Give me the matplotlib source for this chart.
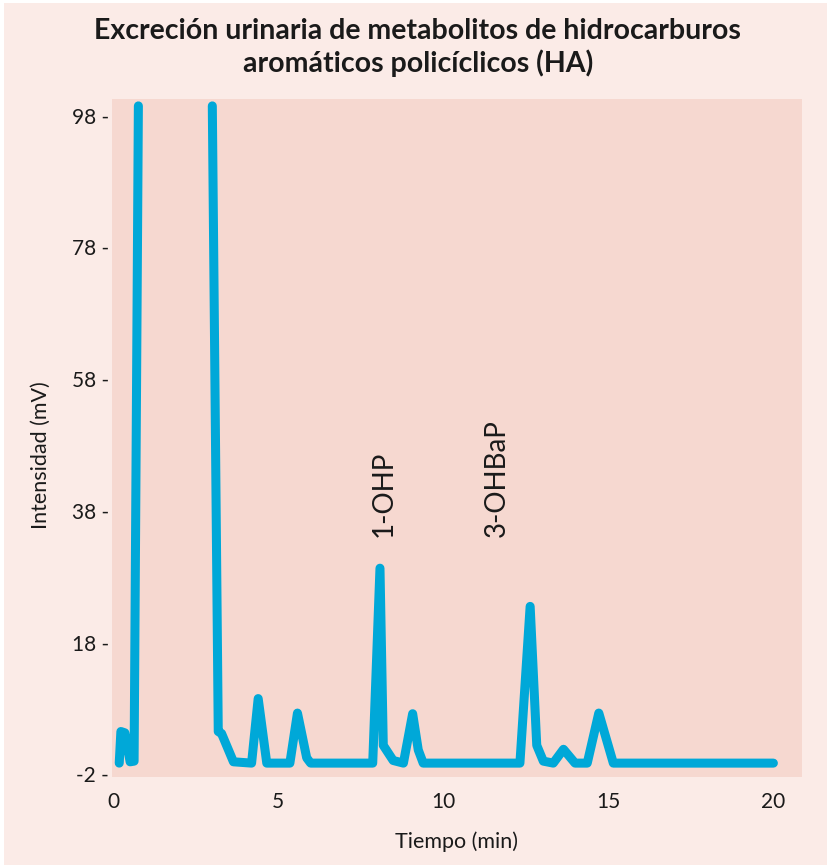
import numpy as np
import matplotlib
matplotlib.use("Agg")
import matplotlib.pyplot as plt
from matplotlib.patches import Rectangle
from matplotlib import font_manager

# ---- data ----
time_min = [0.18, 0.23, 0.35, 0.51, 0.63, 0.76, np.nan, 3.00, 3.18, 3.28, 3.64, 4.19,
            4.39, 4.65, 5.35, 5.58, 5.86, 5.98, 7.86, 8.08, 8.18, 8.48, 8.79,
            9.07, 9.24, 9.39, 12.32, 12.63, 12.83, 13.03, 13.33, 13.64, 13.99,
            14.36, 14.71, 15.15, 20.00]
intensity_mv = [-0.3, 4.5, 4.3, -0.1, 0.0, 99.5, np.nan, 99.5, 4.5, 4.2, -0.1, -0.3,
                9.5, -0.3, -0.3, 7.3, 0.5, -0.3, -0.3, 29.3, 2.4, 0.1, -0.3,
                7.2, 1.7, -0.3, -0.3, 23.5, 2.4, 0.0, -0.3, 1.8, -0.3,
                -0.3, 7.3, -0.3, -0.3]
xticks = [0, 5, 10, 15, 20]
yticks = [-2, 18, 38, 58, 78, 98]
peak_labels = ["1-OHP", "3-OHBaP"]
peak_label_x = [8.2, 11.63]
peak_label_y = [34.0, 34.0]

title = "Excreción urinaria de metabolitos de hidrocarburos\naromáticos policíclicos (HA)"

avail = {f.name for f in font_manager.fontManager.ttflist}
body_font = "Lato" if "Lato" in avail else "DejaVu Sans"
title_font = body_font

fig_bg = "#fbebe7"
ax_bg = "#f6d8d0"
line_c = "#00a8d8"
txt_c = "#1a1a1a"

fig = plt.figure(figsize=(8.27, 8.65), dpi=100)
fig.patch.set_facecolor("white")
fig.patches.append(Rectangle((4/827, 0), 1, 1 - 3/865, transform=fig.transFigure,
                             facecolor=fig_bg, edgecolor="none", zorder=-10))

ax = fig.add_axes([0.135, 0.1021, 0.8345, 0.7834])
ax.set_facecolor(ax_bg)
for s in ax.spines.values():
    s.set_visible(False)

ax.plot(time_min, intensity_mv, color=line_c, lw=6.5, solid_capstyle="round",
        solid_joinstyle="round")

ax.set_xlim(-0.05, 20.86)
ax.set_ylim(-2.36, 100.54)
ax.set_xticks(xticks)
ax.set_xticklabels([str(v) for v in xticks], fontsize=15, family=body_font, color=txt_c)
ax.set_yticks(yticks)
ax.set_yticklabels([f"{v} -" for v in yticks], fontsize=15, family=body_font, color=txt_c)
ax.tick_params(axis="both", length=0)
ax.tick_params(axis="x", pad=11)
ax.tick_params(axis="y", pad=2)

ax.set_xlabel("Tiempo (min)", fontsize=15.5, family=body_font, color=txt_c, labelpad=14)
ax.set_ylabel("Intensidad (mV)", fontsize=15.5, family=body_font, color=txt_c)
ax.yaxis.set_label_coords(-0.088, 0.475)

for lab, x, y in zip(peak_labels, peak_label_x, peak_label_y):
    ax.text(x, y, lab, rotation=90, ha="center", va="bottom", fontsize=20,
            family=body_font, color=txt_c)

fig.text(0.505, 0.9455, title, ha="center", va="center", fontsize=20.5,
         fontweight="bold", family=title_font, color=txt_c, linespacing=1.25)

fig.savefig("out.png", dpi=100, facecolor=fig.get_facecolor())
